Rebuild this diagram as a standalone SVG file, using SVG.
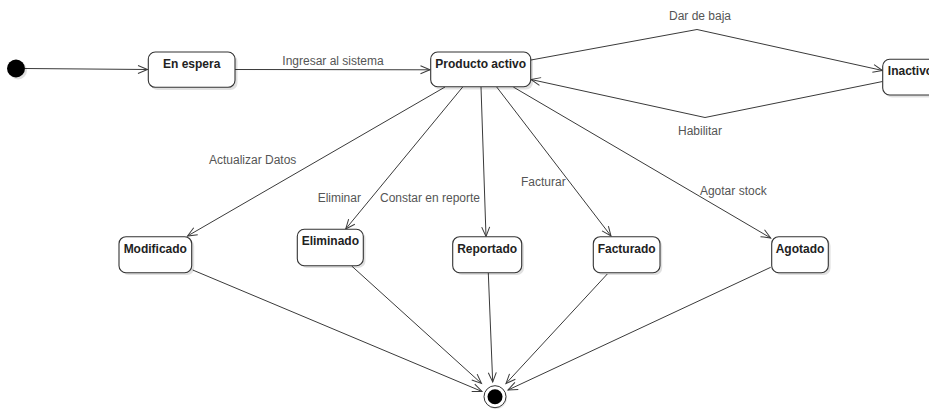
<svg xmlns="http://www.w3.org/2000/svg" width="929" height="410" viewBox="0 0 929 410">
<style>
.box{fill:#fff;stroke:#333;stroke-width:1.1}
.sh{fill:#000;opacity:0.12}
.nt{font-family:"Liberation Sans",Arial,sans-serif;font-size:12px;font-weight:bold;fill:#222;text-anchor:middle}
.lb{font-family:"Liberation Sans",Arial,sans-serif;font-size:12px;fill:#555;text-anchor:middle}
.ln{fill:none;stroke:#3a3a3a;stroke-width:1;marker-end:url(#arr)}
</style>
<defs>
<marker id="arr" markerUnits="userSpaceOnUse" markerWidth="12" markerHeight="10" refX="10" refY="4.5" orient="auto" overflow="visible">
<path d="M0.5,0.5 L10,4.5 L0.5,8.5" fill="none" stroke="#3a3a3a" stroke-width="1"/>
</marker>
</defs>
<rect width="929" height="410" fill="#fff"/>
<g id="connectors">
<line class="ln" x1="25" y1="68.5" x2="147.5" y2="69.5"/>
<line class="ln" x1="235" y1="69.5" x2="430" y2="69.8"/>
<polyline class="ln" points="531,60 697,29.5 882.5,70.5"/>
<polyline class="ln" points="882.5,81.5 705,117.5 531,79.5"/>
<line class="ln" x1="445" y1="87" x2="187.5" y2="236"/>
<line class="ln" x1="462.7" y1="87" x2="345.7" y2="229"/>
<line class="ln" x1="481" y1="87" x2="486" y2="236.5"/>
<line class="ln" x1="496.7" y1="87" x2="611" y2="236"/>
<line class="ln" x1="513.3" y1="87" x2="770.7" y2="238"/>
<line class="ln" x1="192.7" y1="270" x2="482" y2="391.5"/>
<line class="ln" x1="351.7" y1="266" x2="481.5" y2="383.5"/>
<line class="ln" x1="488.3" y1="273" x2="492.7" y2="382"/>
<line class="ln" x1="607.3" y1="274" x2="506" y2="383.5"/>
<line class="ln" x1="770.7" y1="267.3" x2="508" y2="390"/>
<text class="lb" x="333" y="64.5">Ingresar al sistema</text>
<text class="lb" x="700" y="20">Dar de baja</text>
<text class="lb" x="700" y="135">Habilitar</text>
<text class="lb" x="252.7" y="164">Actualizar Datos</text>
<text class="lb" x="339.3" y="201.5">Eliminar</text>
<text class="lb" x="430" y="201.5">Constar en reporte</text>
<text class="lb" x="543.3" y="186">Facturar</text>
<text class="lb" x="733.3" y="195">Agotar stock</text>
</g>
<g id="initial">
<circle cx="18" cy="70.5" r="9" fill="#000" opacity="0.12"/>
<circle cx="16" cy="68.5" r="9" fill="#000"/>
</g>
<g id="en-espera">
<rect class="sh" x="150.5" y="54.5" width="87" height="35.5" rx="7"/>
<rect class="box" x="148.3" y="52" width="86.7" height="35.3" rx="7"/>
<text class="nt" x="191.7" y="68">En espera</text>
</g>
<g id="producto-activo">
<rect class="sh" x="433" y="54.5" width="100" height="35" rx="7"/>
<rect class="box" x="430.7" y="52" width="100" height="34.7" rx="7"/>
<text class="nt" x="480.7" y="68">Producto activo</text>
</g>
<g id="inactivo">
<rect class="sh" x="885" y="61.5" width="56" height="36" rx="7"/>
<rect class="box" x="882.7" y="59.3" width="56" height="35.7" rx="7"/>
<text class="nt" x="910.5" y="75">Inactivo</text>
</g>
<g id="modificado">
<rect class="sh" x="121.5" y="239" width="72.7" height="36" rx="7"/>
<rect class="box" x="119" y="236.7" width="72.7" height="36" rx="7"/>
<text class="nt" x="155.3" y="253">Modificado</text>
</g>
<g id="eliminado">
<rect class="sh" x="299.5" y="231.5" width="66" height="36.4" rx="7"/>
<rect class="box" x="297.3" y="229.3" width="66" height="36.4" rx="7"/>
<text class="nt" x="330.3" y="245">Eliminado</text>
</g>
<g id="reportado">
<rect class="sh" x="455" y="239" width="69" height="36" rx="7"/>
<rect class="box" x="452.7" y="236.7" width="69" height="36" rx="7"/>
<text class="nt" x="487.2" y="253">Reportado</text>
</g>
<g id="facturado">
<rect class="sh" x="595.5" y="239" width="66.7" height="36" rx="7"/>
<rect class="box" x="593.3" y="236.7" width="66.7" height="36" rx="7"/>
<text class="nt" x="626.7" y="253">Facturado</text>
</g>
<g id="agotado">
<rect class="sh" x="774" y="239" width="56.6" height="36" rx="7"/>
<rect class="box" x="771.7" y="236.7" width="56.6" height="36" rx="7"/>
<text class="nt" x="800" y="253">Agotado</text>
</g>
<g id="final">
<circle cx="496" cy="398" r="11" fill="#000" opacity="0.1"/>
<circle cx="495" cy="396.7" r="11" fill="#fff" stroke="#333" stroke-width="1"/>
<circle cx="495" cy="396.7" r="7.5" fill="#000"/>
</g>
</svg>
